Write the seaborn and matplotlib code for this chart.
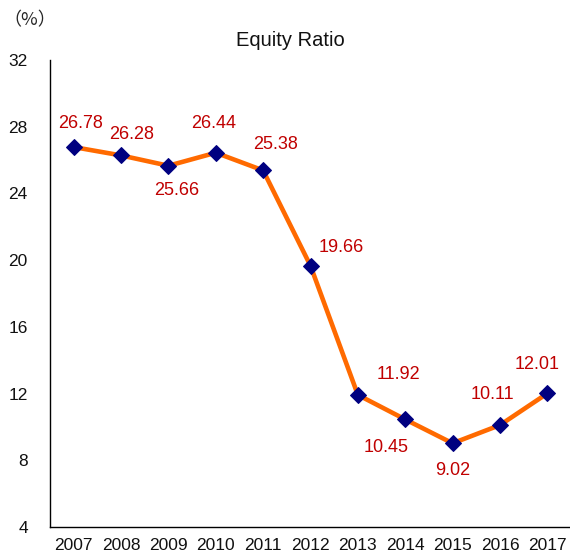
import numpy as np
import pandas as pd
import matplotlib
matplotlib.use("Agg")
import matplotlib.pyplot as plt
import seaborn as sns

years = ["2007", "2008", "2009", "2010", "2011", "2012",
         "2013", "2014", "2015", "2016", "2017"]
equity_ratio = [26.78, 26.28, 25.66, 26.44, 25.38, 19.66,
                11.92, 10.45, 9.02, 10.11, 12.01]
y_ticks = [4, 8, 12, 16, 20, 24, 28, 32]

# label offsets in pixels (dx, dy), dy positive = up
label_offsets = [(7, 24), (11, 21), (8, -25), (-2, 29), (12, 26), (31, 18),
                 (41, 20), (-19, -28), (0, -27), (-8, 31), (-10, 29)]

df = pd.DataFrame({"pos": np.arange(len(years)), "ratio": equity_ratio})

sns.set_style("white")
plt.rcParams["font.family"] = ["Liberation Sans", "Noto Sans CJK JP", "DejaVu Sans"]

fig = plt.figure(figsize=(5.7, 5.57), dpi=100)
ax = fig.add_axes([50 / 570, 30 / 557, 521 / 570, 467 / 557])

sns.lineplot(data=df, x="pos", y="ratio", ax=ax, color="#FF6A00",
             linewidth=3.3, marker="D", markersize=8.5,
             markerfacecolor="#000080", markeredgecolor="#000080", zorder=3)

px = 72 / 100
for i, (v, (dx, dy)) in enumerate(zip(equity_ratio, label_offsets)):
    ax.annotate(f"{v:.2f}", (i, v), xytext=(dx * px, dy * px),
                textcoords="offset points", ha="center", va="center",
                color="#C00000", fontsize=13)

ax.set_xlim(-0.5, len(years) - 0.5)
ax.set_ylim(4, 32)
ax.set_yticks(y_ticks)
ax.set_xticks(np.arange(len(years) + 1) - 0.5)
ax.set_xticklabels([])
ax.set_xticks(np.arange(len(years)), minor=True)
ax.set_xticklabels(years, minor=True)
ax.tick_params(axis="x", which="major", direction="in", length=4, width=0.8, color="#404040")
ax.tick_params(axis="x", which="minor", length=0, pad=8, labelsize=12.5, labelcolor="#111111")
ax.tick_params(axis="y", direction="in", length=4, width=0.8, pad=16, labelsize=12.5,
               color="#404040", labelcolor="#111111")
ax.set_xlabel("")
ax.set_ylabel("")

for side in ["top", "right"]:
    ax.spines[side].set_visible(False)
for side in ["left", "bottom"]:
    ax.spines[side].set_color("black")
    ax.spines[side].set_linewidth(1.0)

fig.text(290 / 570, 1 - 40 / 557, "Equity Ratio", ha="center", va="center",
         fontsize=14.5, color="#111111")
fig.text(30 / 570, 1 - 20 / 557, "（%）", ha="center", va="center",
         fontsize=13, family=["Noto Sans CJK JP", "DejaVu Sans"])

fig.savefig("out.png", dpi=100)
